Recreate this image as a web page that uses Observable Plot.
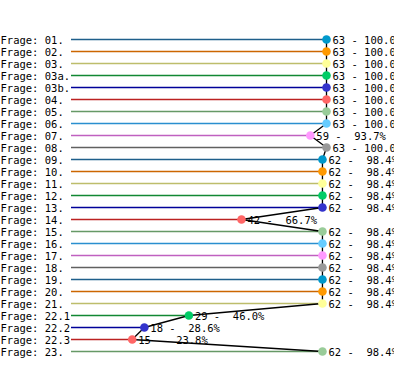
<!DOCTYPE html>
<html>
<head>
<meta charset="utf-8">
<script src="https://cdn.jsdelivr.net/npm/d3@7"></script>
<script src="https://cdn.jsdelivr.net/npm/@observablehq/plot@0.6"></script>
<style>
  html, body { margin: 0; padding: 0; background: #fff; overflow: hidden; }
  svg { display: block; }
</style>
</head>
<body>
<div id="chart"></div>
<script>
const questions = ["01.", "02.", "03.", "03a.", "03b.", "04.", "05.", "06.", "07.", "08.",
  "09.", "10.", "11.", "12.", "13.", "14.", "15.", "16.", "17.", "18.",
  "19.", "20.", "21.", "22.1", "22.2", "22.3", "23."];
const counts = [63, 63, 63, 63, 63, 63, 63, 63, 59, 63,
  62, 62, 62, 62, 62, 42, 62, 62, 62, 62,
  62, 62, 62, 29, 18, 15, 62];
const percents = ["100.0", "100.0", "100.0", "100.0", "100.0", "100.0", "100.0", "100.0", "93.7", "100.0",
  "98.4", "98.4", "98.4", "98.4", "98.4", "66.7", "98.4", "98.4", "98.4", "98.4",
  "98.4", "98.4", "98.4", "46.0", "28.6", "23.8", "98.4"];
const pointColors = ["#0099cc", "#ff9900", "#ffff99", "#00cc66", "#3333cc",
  "#ff6666", "#99cc99", "#66ccff", "#ff99ff", "#999999"];
const lineColors = ["#1f5f8b", "#cc6600", "#bdbd6b", "#118833", "#000099",
  "#bb2222", "#669966", "#2a8fcf", "#c060c0", "#606060"];
const maxCount = 63;

const data = questions.map((q, i) => ({
  q,
  label: "Frage: " + q,
  n: counts[i],
  text: `${counts[i]} - ${percents[i].padStart(5, " ")}%`,
  pc: pointColors[i % pointColors.length],
  lc: lineColors[i % lineColors.length]
}));

const font = "DejaVu Sans Mono, monospace";

const chart = Plot.plot({
  width: 394,
  height: 373,
  marginLeft: 71,
  marginRight: 68,
  marginTop: 29,
  marginBottom: 12,
  style: { fontFamily: font, fontSize: "10px", background: "#fff", overflow: "visible" },
  x: { domain: [0, maxCount], axis: null },
  y: { type: "point", domain: questions, padding: 0, axis: null },
  marks: [
    Plot.ruleY(data, { y: "q", x1: 0, x2: "n", stroke: "lc", strokeWidth: 1.5 }),
    Plot.line(data, { x: "n", y: "q", stroke: "black", strokeWidth: 1.3 }),
    Plot.dot(data, { x: "n", y: "q", r: 4.3, fill: "pc", stroke: "none" }),
    Plot.text(data, { x: "n", y: "q", text: "text", textAnchor: "start", dx: 6, dy: 1,
      fill: "black", fontSize: 10.5, fontFamily: font, style: "white-space: pre" }),
    Plot.text(data, { frameAnchor: "left", y: "q", text: "label", textAnchor: "start", dx: -71, dy: 1,
      fill: "black", fontSize: 10.5, fontFamily: font })
  ]
});
document.getElementById("chart").appendChild(chart);
</script>
</body>
</html>
